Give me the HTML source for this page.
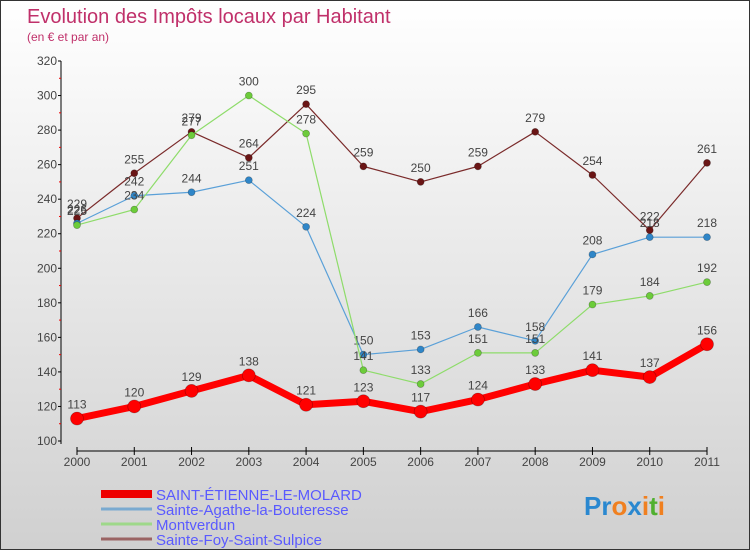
<!DOCTYPE html>
<html><head><meta charset="utf-8"><style>
body{margin:0;width:750px;height:550px;overflow:hidden;font-family:"Liberation Sans",sans-serif}
#wrap{position:relative;width:748px;height:548px;border:1px solid #333;background:linear-gradient(#ffffff,#d0d0d0)}
svg{position:absolute;left:0;top:0}
</style></head><body>
<div id="wrap">
<svg id="chart" width="750" height="550">
<text x="26" y="22" font-size="20" fill="#c0306a">Evolution des Impôts locaux par Habitant</text>
<text x="26" y="40" font-size="12" fill="#c0306a">(en € et par an)</text>
</svg>
</div>
<script>
const years=["2000","2001","2002","2003","2004","2005","2006","2007","2008","2009","2010","2011"];
const yTicks=[100,120,140,160,180,200,220,240,260,280,300,320];
const saintEtienne=[113,120,129,138,121,123,117,124,133,141,137,156];
const sainteAgathe=[226,242,244,251,224,150,153,166,158,208,218,218];
const montverdun=[225,234,277,300,278,141,133,151,151,179,184,192];
const sainteFoy=[229,255,279,264,295,259,250,259,279,254,222,261];
const seriesNames=["SAINT-ÉTIENNE-LE-MOLARD","Sainte-Agathe-la-Bouteresse","Montverdun","Sainte-Foy-Saint-Sulpice"];

const NS="http://www.w3.org/2000/svg";
const svg=document.getElementById('chart');
const xS=i=>76+i*(630/11);
const yS=v=>440-(v-100)*(380/220);
function mk(tag,attrs,parent){const e=document.createElementNS(NS,tag);for(const k in attrs)e.setAttribute(k,attrs[k]);(parent||svg).appendChild(e);return e;}

// axes
let ax=mk('line',{x1:60,y1:60,x2:60,y2:443,stroke:'#000','stroke-width':1});


let xa=mk('line',{x1:76,y1:450,x2:706,y2:450,stroke:'#000','stroke-width':1});


yTicks.forEach((v,i)=>{
  mk('line',{x1:57,y1:yS(v),x2:60,y2:yS(v),stroke:'#000'});
  if(i<yTicks.length-1){mk('line',{x1:58,y1:yS(v+10),x2:60,y2:yS(v+10),stroke:'#e00'});}
  const t=mk('text',{x:56,y:yS(v)+4,'font-size':12,'text-anchor':'end',fill:'#444'});
  t.textContent=v;
  
  
});
years.forEach((y,i)=>{
  mk('line',{x1:xS(i),y1:446,x2:xS(i),y2:454,stroke:'#000'});
  const t=mk('text',{x:xS(i),y:465,'font-size':12,'text-anchor':'middle',fill:'#444'});
  t.textContent=y;
  
  
});
function series(data,color,dot,w,r,name){
  const g=mk('g',{});
  
  
  mk('polyline',{points:data.map((v,i)=>xS(i)+','+yS(v)).join(' '),fill:'none',stroke:color,'stroke-width':w,'stroke-linejoin':'round'},g);
  data.forEach((v,i)=>{
    const c=mk('circle',{cx:xS(i),cy:yS(v),r:r,fill:dot,stroke:'rgba(0,0,0,0.3)','stroke-width':0.7},g);
    
    
    const t=mk('text',{x:xS(i),y:yS(v)-10,'font-size':12,'text-anchor':'middle',fill:'#444'},g);
    t.textContent=v;
    
    
  });
}
series(sainteFoy,'#7a2a2a','#6a1515',1.2,3.5,'series-sainte-foy');
series(sainteAgathe,'#5aa0d8','#2f86c8',1.2,3.5,'series-sainte-agathe');
series(montverdun,'#8edc6a','#6ccc3a',1.2,3.5,'series-montverdun');
series(saintEtienne,'#ff0000','#ff0000',7,6.5,'series-saint-etienne');

// legend
const lc=[['#ee0000',8],['#7aaad0',3],['#9ed88a',3],['#9a6464',3]];
const ly=[493,508,523,538];
seriesNames.forEach((n,i)=>{
  const g=mk('g',{});
  
  
  mk('line',{x1:100,y1:ly[i],x2:151,y2:ly[i],stroke:lc[i][0],'stroke-width':lc[i][1]},g);
  const t=mk('text',{x:155,y:ly[i]+6,'font-size':15,fill:'#5a5aff'},g);
  t.textContent=n;
});
// logo
const lg=mk('text',{x:583,y:514,'font-size':26,'font-weight':'bold'});


[['P','#2a88d0'],['r','#2a88d0'],['o','#f08020'],['x','#2a88d0'],['i','#f08020'],['t','#50b030'],['i','#f08020']].forEach(([c,f])=>{const s=mk('tspan',{fill:f},lg);s.textContent=c;});
</script>
</body></html>
